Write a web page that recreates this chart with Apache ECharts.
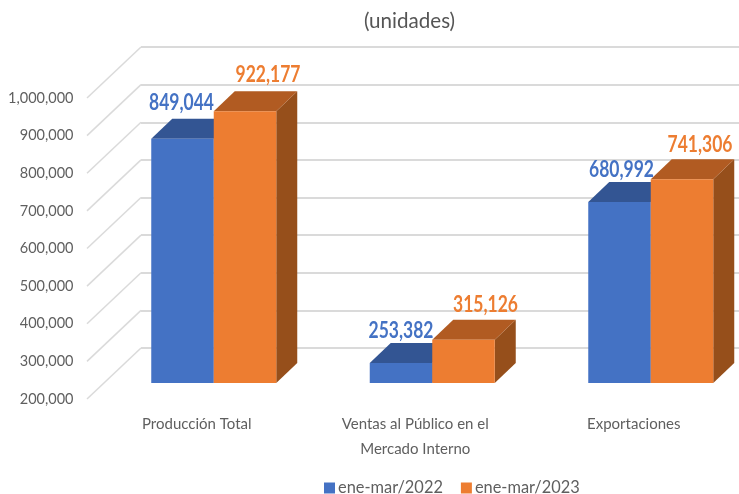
<!DOCTYPE html>
<html>
<head>
<meta charset="utf-8">
<style>
  html, body { margin: 0; padding: 0; background: #fff; }
  #chart { width: 739px; height: 494px; }
</style>
<script src="https://cdn.jsdelivr.net/npm/echarts@6/dist/echarts.min.js"></script>
</head>
<body>
<div id="chart"></div>
<script>
var categories = ['Producción Total', 'Ventas al Público en el\nMercado Interno', 'Exportaciones']
var ene2022 = [849044, 253382, 680992]
var ene2023 = [922177, 315126, 741306]
var yTicks = [200000, 300000, 400000, 500000, 600000, 700000, 800000, 900000, 1000000]

var FONT = 'Lato, "Liberation Sans", sans-serif'
var TEXT_GRAY = '#5f5f5f'
var GRID_GRAY = '#dadada'

// fake 3d: the bars stand part way between the axis plane and the back wall
var WALL_DX = 54
var WALL_DY = 51
var BAR_DX = 17
var BAR_DY = 16
var DEPTH_DX = 21
var DEPTH_DY = 20
var BAR_RATIO = 62.5 / 218.5

// the data labels were placed by hand in the original, so each has its own nudge
var blueLabelOffset = [[-1, -36], [0, -32], [2, -32]]
var orangeLabelOffset = [[23, -36.5], [22, -35], [18, -34.5]]

function bar3d(side, colors, labelOffset) {
  return function (params, api) {
    var i = api.value(0)
    var val = api.value(1)
    var top = api.coord([i, val])
    var base = api.coord([i, yTicks[0]])
    var w = api.size([1, 0])[0] * BAR_RATIO
    var x0 = top[0] + BAR_DX + (side < 0 ? -w : 0)
    var x1 = x0 + w
    var y0 = top[1] - BAR_DY
    var y1 = base[1] - BAR_DY
    return {
      type: 'group',
      children: [
        {
          type: 'polygon',
          shape: { points: [[x1, y0], [x1 + DEPTH_DX, y0 - DEPTH_DY], [x1 + DEPTH_DX, y1 - DEPTH_DY], [x1, y1]] },
          style: { fill: colors.side }
        },
        {
          type: 'polygon',
          shape: { points: [[x0, y0], [x0 + DEPTH_DX, y0 - DEPTH_DY], [x1 + DEPTH_DX, y0 - DEPTH_DY], [x1, y0]] },
          style: { fill: colors.top }
        },
        {
          type: 'rect',
          shape: { x: x0, y: y0, width: w, height: y1 - y0 },
          style: { fill: colors.front }
        },
        {
          type: 'text',
          x: (x0 + x1) / 2 + labelOffset[i][0],
          y: y0 + labelOffset[i][1],
          scaleX: 0.76,
          style: {
            text: val.toLocaleString('en-US'),
            fill: colors.front,
            font: 'bold 23px ' + FONT,
            align: 'center',
            verticalAlign: 'middle'
          }
        }
      ]
    }
  }
}

function floorLine(params, api) {
  var p = api.coord([0, api.value(1)])
  var x = params.coordSys.x
  return {
    type: 'line',
    shape: { x1: x, y1: p[1], x2: x - WALL_DX, y2: p[1] + WALL_DY },
    style: { stroke: GRID_GRAY, lineWidth: 1.5 }
  }
}

var chart = echarts.init(document.getElementById('chart'))

chart.setOption({
  animation: false,
  backgroundColor: '#fff',
  title: {
    text: '(unidades)',
    left: 359,
    top: 6,
    textStyle: { fontFamily: FONT, fontSize: 20.6, fontWeight: 'normal', color: '#555' }
  },
  legend: {
    left: 319,
    top: 475,
    itemWidth: 11,
    itemHeight: 11,
    itemGap: 18,
    icon: 'rect',
    selectedMode: false,
    textStyle: { fontFamily: FONT, fontSize: 16.4, color: TEXT_GRAY, padding: [0, 0, 0, -2] },
    data: ['ene-mar/2022', 'ene-mar/2023']
  },
  grid: [
    // back wall
    { left: 141, top: 47, width: 598, height: 301, outerBoundsMode: 'none' },
    // axis plane
    { left: 87.5, top: 98, width: 655.5, height: 301, outerBoundsMode: 'none' }
  ],
  xAxis: [
    { type: 'category', gridIndex: 0, data: categories, show: false },
    {
      type: 'category',
      gridIndex: 1,
      data: categories,
      axisLine: { show: false },
      axisTick: { show: false },
      axisLabel: {
        margin: 13,
        fontFamily: FONT,
        fontSize: 15,
        lineHeight: 25,
        color: TEXT_GRAY,
        interval: 0
      }
    }
  ],
  yAxis: [
    {
      type: 'value',
      gridIndex: 0,
      min: 200000,
      max: 1000000,
      interval: 100000,
      axisLine: { show: false },
      axisTick: { show: false },
      axisLabel: { show: false },
      splitLine: { lineStyle: { color: GRID_GRAY, width: 2 } }
    },
    {
      type: 'value',
      gridIndex: 1,
      min: 200000,
      max: 1000000,
      interval: 100000,
      axisLine: { show: false },
      axisTick: { show: false },
      splitLine: { show: false },
      axisLabel: {
        margin: 14,
        fontFamily: FONT,
        fontSize: 14.5,
        color: TEXT_GRAY,
        padding: [2, 0, 0, 0],
        formatter: function (v) { return v.toLocaleString('en-US') }
      }
    }
  ],
  series: [
    {
      type: 'custom',
      xAxisIndex: 0,
      yAxisIndex: 0,
      silent: true,
      renderItem: floorLine,
      data: yTicks.map(function (v) { return [0, v] })
    },
    {
      name: 'ene-mar/2022',
      type: 'custom',
      xAxisIndex: 1,
      yAxisIndex: 1,
      silent: true,
      clip: false,
      itemStyle: { color: '#4472c4' },
      renderItem: bar3d(-1, { front: '#4472c4', top: '#335593', side: '#2f5597' }, blueLabelOffset),
      data: ene2022.map(function (v, i) { return [i, v] })
    },
    {
      name: 'ene-mar/2023',
      type: 'custom',
      xAxisIndex: 1,
      yAxisIndex: 1,
      silent: true,
      clip: false,
      itemStyle: { color: '#ed7d31' },
      renderItem: bar3d(1, { front: '#ed7d31', top: '#b15b22', side: '#964f1b' }, orangeLabelOffset),
      data: ene2023.map(function (v, i) { return [i, v] })
    }
  ]
})
</script>
</body>
</html>
